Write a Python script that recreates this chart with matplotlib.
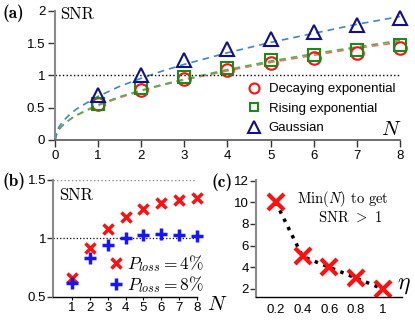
import matplotlib
matplotlib.use("Agg")
import matplotlib.pyplot as plt
from matplotlib.lines import Line2D

plt.rcParams['font.family'] = 'Liberation Sans'
plt.rcParams['mathtext.fontset'] = 'cm'
plt.rcParams['font.size'] = 9

# (a) SNR vs N for three pulse shapes
N = [1, 2, 3, 4, 5, 6, 7, 8]
snr_decay = [0.55, 0.78, 0.95, 1.08, 1.19, 1.27, 1.35, 1.43]
snr_rise = [0.56, 0.81, 0.98, 1.12, 1.23, 1.32, 1.40, 1.47]
snr_gauss = [0.70, 1.01, 1.23, 1.41, 1.56, 1.67, 1.78, 1.88]
# dashed fit curves
fit_x = [0, 0.05, 0.1, 0.2, 0.35, 0.5, 0.75, 1, 1.5, 2, 2.5, 3, 4, 5, 6, 7, 8]
fit_decay = [0, 0.12, 0.17, 0.24, 0.32, 0.38, 0.46, 0.535, 0.655, 0.76, 0.85,
             0.93, 1.07, 1.20, 1.31, 1.42, 1.51]
fit_rise = [0, 0.12, 0.17, 0.24, 0.32, 0.385, 0.47, 0.545, 0.67, 0.77, 0.86,
            0.94, 1.09, 1.22, 1.335, 1.44, 1.54]
fit_gauss = [0, 0.15, 0.21, 0.30, 0.40, 0.48, 0.58, 0.675, 0.83, 0.955, 1.07,
             1.17, 1.35, 1.51, 1.65, 1.79, 1.91]

# (b) SNR with losses
snr_loss4 = [0.66, 0.915, 1.08, 1.18, 1.25, 1.30, 1.33, 1.35]
snr_loss8 = [0.62, 0.83, 0.94, 1.00, 1.03, 1.04, 1.03, 1.02]

# (c) minimum N vs efficiency
eta = [0.2, 0.4, 0.6, 0.8, 1.0]
min_N = [10, 5, 4, 3, 2]

fig = plt.figure(figsize=(4.15, 3.2), dpi=100)
grey = '#8a8a8a'

# ---- panel a
axa = fig.add_axes([0.1325, 0.5625, 0.8313, 0.404])
axa.plot(fit_x, fit_decay, '--', color='#f07060', lw=1.2, dashes=(4, 3))
axa.plot(fit_x, fit_rise, '--', color='#50b050', lw=1.2, dashes=(4, 3))
axa.plot(fit_x, fit_gauss, '--', color='#3f86c8', lw=1.2, dashes=(4, 3))
axa.axhline(1, xmin=0, xmax=1, color='k', ls=':', lw=1)
axa.plot(N, snr_decay, 'o', mfc='none', mec='#ff1010', mew=1.5, ms=9,
         label='Decaying exponential', clip_on=False)
axa.plot(N, snr_rise, 's', mfc='none', mec='#1a8a1a', mew=1.5, ms=8,
         label='Rising exponential', clip_on=False)
axa.plot(N, snr_gauss, '^', mfc='none', mec='#10108a', mew=1.5, ms=10,
         label='Gaussian', clip_on=False)
axa.set_xlim(0, 8)
axa.set_ylim(0, 2)
axa.set_xticks(range(9))
axa.set_yticks([0, 0.5, 1, 1.5, 2])
axa.set_yticklabels(['0', '0.5', '1', '1.5', '2'])
for s in ['top', 'right']:
    axa.spines[s].set_visible(False)
axa.spines['left'].set_color(grey)
axa.spines['bottom'].set_color('#555555')
axa.spines['left'].set_linewidth(1.5)
axa.spines['bottom'].set_linewidth(1.2)
axa.tick_params(axis='both', direction='out', length=5, width=1, color='#333333',
                labelsize=9.5, pad=2)
axa.legend(loc='upper left', bbox_to_anchor=(0.535, 0.49), frameon=False,
           handletextpad=0.5, labelspacing=0.55, borderpad=0, numpoints=1,
           fontsize=9.5, handlelength=1.2, markerscale=0.8)
axa.text(0.015, 0.975, 'SNR', transform=axa.transAxes, family='cmr10',
         fontsize=12, va='center', ha='left')
axa.text(1.005, 0.08, '$N$', transform=axa.transAxes, fontsize=15,
         va='center', ha='right')
fig.text(0.007, 0.958, '(a)', family='cmb10', fontsize=12.5, va='center')

# ---- panel b
axb = fig.add_axes([0.1277, 0.0728, 0.3470, 0.3647])
axb.axhline(1, color='k', ls=':', lw=0.9)
axb.axhline(1.5, color=grey, ls=':', lw=1)
axb.plot(N, snr_loss4, 'x', color='#ff1010', ms=7, mew=2.5, clip_on=False)
axb.plot(N, snr_loss8, '+', color='#1515ff', ms=9, mew=2.5, clip_on=False)
axb.set_xlim(-0.06, 8)
axb.set_ylim(0.5, 1.5)
axb.set_xticks(N)
axb.set_yticks([0.5, 1, 1.5])
axb.set_yticklabels(['0.5', '1', '1.5'])
for s in ['top', 'right']:
    axb.spines[s].set_visible(False)
axb.spines['left'].set_color(grey)
axb.spines['left'].set_linewidth(1.5)
axb.spines['bottom'].set_linewidth(1)
axb.tick_params(axis='y', direction='out', length=4, width=1, color='#333333',
                labelsize=9.5, pad=1)
axb.tick_params(axis='x', direction='out', length=2, width=0.8,
                labelsize=9.5, pad=2)
hb = [Line2D([], [], ls='none', marker='x', color='#ff1010', ms=7, mew=2.5),
      Line2D([], [], ls='none', marker='+', color='#1515ff', ms=9, mew=2.5)]
axb.legend(hb, [r'$P_{loss}=4\%$', r'$P_{loss}=8\%$'], loc='upper left',
           bbox_to_anchor=(0.32, 0.45), frameon=False, handletextpad=0.1,
           labelspacing=0.0, borderpad=0, fontsize=12.5, handlelength=1.0)
axb.text(0.04, 0.87, 'SNR', transform=axb.transAxes, family='cmr10',
         fontsize=12, va='center', ha='left')
axb.text(1.067, -0.063, '$N$', transform=axb.transAxes, fontsize=15,
         va='center', ha='left')
fig.text(0.007, 0.435, '(b)', family='cmb10', fontsize=12.5, va='center')

# ---- panel c
axc = fig.add_axes([0.616, 0.0709, 0.352, 0.3666])
axc.plot(eta, min_N, ':', color='k', lw=2.5)
axc.plot(eta, min_N, 'x', color='#ff1010', ms=11, mew=3, ls='none')
axc.set_xlim(0.05, 1.14)
axc.set_ylim(1.23, 12.05)
axc.set_xticks(eta)
axc.set_xticklabels(['0.2', '0.4', '0.6', '0.8', '1'])
axc.set_yticks([2, 4, 6, 8, 10, 12])
for s in ['top', 'right']:
    axc.spines[s].set_visible(False)
axc.spines['left'].set_color(grey)
axc.spines['left'].set_linewidth(1.5)
axc.spines['bottom'].set_linewidth(1)
axc.tick_params(axis='y', direction='out', length=4, width=1, color='#333333',
                labelsize=9.5, pad=1)
axc.tick_params(axis='x', length=0, labelsize=9.5, pad=5)
axc.text(0.6, 0.92, 'Min($N$) to get\n   SNR $>$ 1', transform=axc.transAxes,
         family='cmr10', fontsize=10.5, va='top', ha='center', linespacing=1.1)
axc.text(0.97, 0.105, r'$\eta$', transform=axc.transAxes, fontsize=17,
         va='center', ha='left')
fig.text(0.51, 0.432, '(c)', family='cmb10', fontsize=12.5, va='center')

fig.savefig('out.png', dpi=100)
